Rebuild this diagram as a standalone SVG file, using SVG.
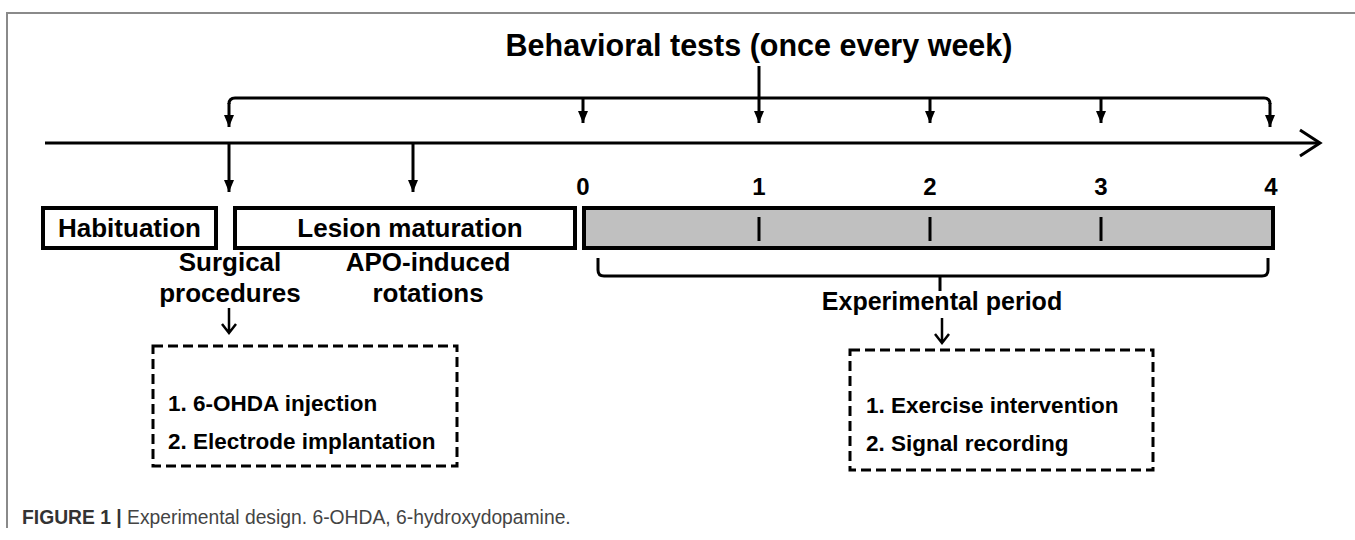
<svg xmlns="http://www.w3.org/2000/svg" width="1355" height="540" viewBox="0 0 1355 540">
<defs>
<marker id="ah" viewBox="0 0 12 10" refX="12" refY="5" markerWidth="12" markerHeight="10" markerUnits="userSpaceOnUse" orient="auto">
<path d="M0,0 L12,5 L0,10 Z" fill="#000"/>
</marker>
<style>
.t{font-family:"Liberation Sans",Arial,sans-serif;font-weight:bold;fill:#000}
.ln{stroke:#000;stroke-width:3;fill:none}
.box{stroke:#000;stroke-width:4;fill:#fff}
.dash{stroke:#000;stroke-width:3;fill:#fff;stroke-dasharray:10,5}
.open{stroke:#000;stroke-width:2.5;fill:none}
</style>
</defs>
<rect width="1355" height="540" fill="#fff"/>
<path d="M7,528 V13 H1355" stroke="#8a8a8a" stroke-width="2" fill="none"/>
<g id="title"><text class="t" x="759" y="56" font-size="30.5" text-anchor="middle">Behavioral tests (once every week)</text></g>
<g id="connectors">
<path class="ln" d="M1318,143 H45"/>
<path class="ln" d="M1300,130 L1320,143 L1300,156" stroke-width="3.5"/>
<path class="ln" d="M229,104 Q229,98 235,98 H1264 Q1270,98 1270,104"/>
<path class="ln" d="M229,103 V127" marker-end="url(#ah)"/>
<path class="ln" d="M1270,103 V127" marker-end="url(#ah)"/>
<path class="ln" d="M759,66 V98"/>
<path class="ln" d="M583,98 V123" marker-end="url(#ah)"/>
<path class="ln" d="M759,98 V123" marker-end="url(#ah)"/>
<path class="ln" d="M930,98 V123" marker-end="url(#ah)"/>
<path class="ln" d="M1101,98 V123" marker-end="url(#ah)"/>
<path class="ln" d="M229,143 V192" marker-end="url(#ah)"/>
<path class="ln" d="M413,143 V192" marker-end="url(#ah)"/>
<path class="ln" d="M598,258 V270 Q598,276 604,276 H1262 Q1268,276 1268,270 V258"/>
<path class="ln" d="M940,276 V291"/>
<path class="open" d="M942,318 V342 M935,334 L942,343 L949,334"/>
<path class="open" d="M229,308 V332 M222,324 L229,333 L236,324"/>
</g>
<g id="week-labels">
<text class="t" x="583" y="195" font-size="24" text-anchor="middle">0</text>
<text class="t" x="759" y="195" font-size="24" text-anchor="middle">1</text>
<text class="t" x="930" y="195" font-size="24" text-anchor="middle">2</text>
<text class="t" x="1101" y="195" font-size="24" text-anchor="middle">3</text>
<text class="t" x="1271" y="195" font-size="24" text-anchor="middle">4</text>
</g>
<g id="habituation">
<rect class="box" x="43" y="208" width="173" height="40"/>
<text class="t" x="129.5" y="237" font-size="26" text-anchor="middle">Habituation</text>
</g>
<g id="lesion-maturation">
<rect class="box" x="235" y="208" width="340" height="40"/>
<text class="t" x="410" y="237" font-size="26" text-anchor="middle">Lesion maturation</text>
</g>
<g id="experimental-bar">
<rect x="584" y="208" width="689" height="40" fill="#c0c0c0" stroke="#000" stroke-width="4"/>
<path d="M759,217 V241 M930,217 V241 M1101,217 V241" stroke="#000" stroke-width="3"/>
</g>
<g id="surgical-label">
<text class="t" x="230" y="271" font-size="26" text-anchor="middle">Surgical</text>
<text class="t" x="230" y="302" font-size="26" text-anchor="middle">procedures</text>
</g>
<g id="apo-label">
<text class="t" x="428" y="271" font-size="26" text-anchor="middle">APO-induced</text>
<text class="t" x="428" y="302" font-size="26" text-anchor="middle">rotations</text>
</g>
<g id="experimental-period-label">
<text class="t" x="942" y="310" font-size="25" text-anchor="middle">Experimental period</text>
</g>
<g id="surgical-box">
<rect class="dash" x="153" y="346" width="304" height="120"/>
<text class="t" x="168" y="411" font-size="22.5">1. 6-OHDA injection</text>
<text class="t" x="168" y="449" font-size="22.5">2. Electrode implantation</text>
</g>
<g id="experimental-box">
<rect class="dash" x="850" y="350" width="303" height="120"/>
<text class="t" x="866" y="413" font-size="22.5">1. Exercise intervention</text>
<text class="t" x="866" y="451" font-size="22.5">2. Signal recording</text>
</g>
<g id="caption">
<text x="22" y="524" font-size="19.3" font-family="'Liberation Sans',Arial,sans-serif" fill="#444"><tspan font-weight="bold" fill="#333">FIGURE 1 | </tspan>Experimental design. 6-OHDA, 6-hydroxydopamine.</text>
</g>
</svg>
